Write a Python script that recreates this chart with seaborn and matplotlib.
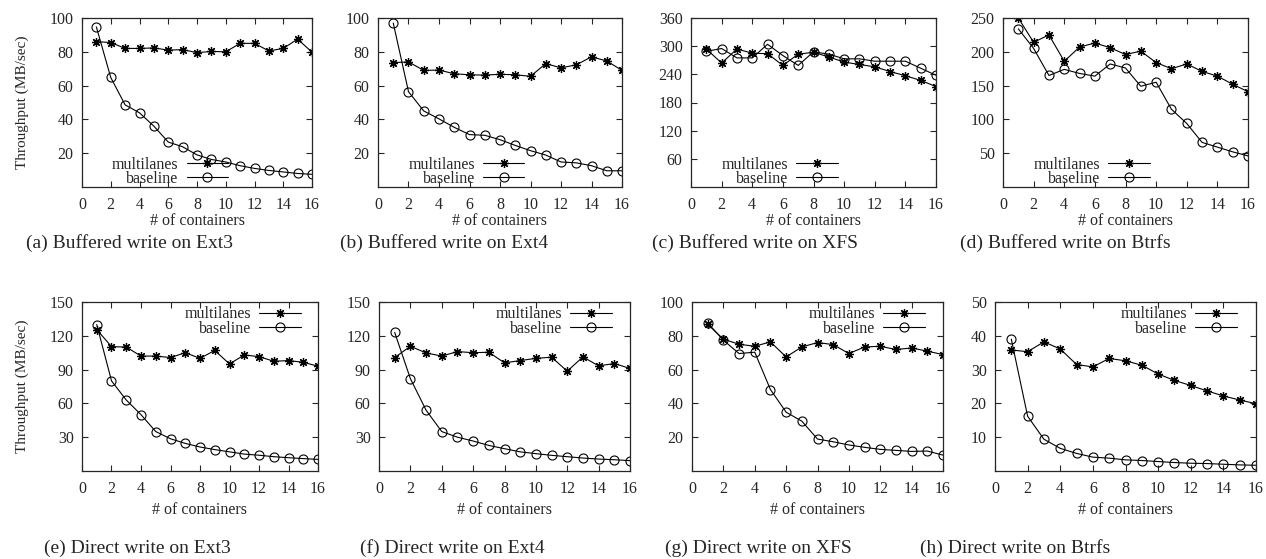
import matplotlib
matplotlib.use("Agg")
import matplotlib.pyplot as plt
import seaborn as sns

# x values: number of containers
containers = list(range(1, 17))

# (a) buffered write, Ext3
ext3_buf_multi = [86, 85.5, 82, 82, 82.3, 81, 81.3, 79.5, 80.2, 80, 85, 85, 80.5, 82, 87.5, 79.8]
ext3_buf_base = [94.7, 64.8, 48.6, 43.9, 36, 26.6, 23.8, 19, 16.3, 14.8, 12.6, 11, 9.8, 8.9, 8, 7.5]

# (b) buffered write, Ext4
ext4_buf_multi = [73.6, 74, 69, 69.2, 67, 66.4, 66.2, 66.7, 66.4, 65.5, 73, 70.5, 72.3, 77, 74.6, 69]
ext4_buf_base = [97, 56.4, 45, 40.3, 35.3, 31, 30.6, 28, 24.6, 21.5, 18.9, 14.8, 14.3, 12.6, 9.6, 9.6]

# (c) buffered write, XFS
xfs_buf_multi = [294, 264, 294, 285, 284, 259, 283, 287, 277, 266, 261, 256, 246, 237, 227, 214]
xfs_buf_base = [289, 295, 275, 275, 304, 280, 259, 288, 283, 273, 273, 268, 268, 268, 253, 238]

# (d) buffered write, Btrfs
btrfs_buf_multi = [250, 214, 225, 186, 207, 213, 206, 196, 201, 184, 175, 182, 171, 164, 152, 141]
btrfs_buf_base = [234, 205, 165, 174, 168, 164, 182, 176, 149, 155, 115, 94, 66, 59, 52, 46]

# (e) direct write, Ext3
ext3_dir_multi = [125.5, 110.4, 110, 102, 102, 100.7, 105, 100, 107, 95, 103, 101.5, 97.4, 98, 96.5, 93]
ext3_dir_base = [130, 80, 63, 50, 35, 28.6, 24.5, 21.3, 19, 17, 15, 14, 12.7, 11.8, 11, 10.3]

# (f) direct write, Ext4
ext4_dir_multi = [100.7, 110.7, 104.8, 102, 106, 105, 105.4, 96, 98, 100, 101, 88.6, 101.3, 93.3, 95.4, 91]
ext4_dir_base = [123, 82, 54, 35, 30, 26.6, 22.7, 19.8, 17, 15.4, 13.9, 12.7, 11.5, 10.6, 10, 9.2]

# (g) direct write, XFS
xfs_dir_multi = [86.8, 78, 75, 73.8, 76.4, 67.5, 73.4, 76, 74.8, 69.5, 73.4, 73.8, 71.9, 72.8, 70.9, 68.9]
xfs_dir_base = [87.6, 77.4, 69.5, 70.3, 48.2, 34.8, 29.5, 18.9, 17.3, 15.4, 14, 12.8, 12.2, 11.6, 11.8, 9.4]

# (h) direct write, Btrfs
btrfs_dir_multi = [35.8, 35.3, 38.2, 36.1, 31.5, 30.8, 33.3, 32.6, 31.3, 28.7, 26.8, 25.3, 23.7, 22.2, 21, 19.9]
btrfs_dir_base = [39, 16.2, 9.4, 6.7, 5.2, 4.1, 3.8, 3.3, 3.1, 2.8, 2.5, 2.3, 2.2, 2.0, 1.8, 1.7]

captions = ["(a) Buffered write on Ext3", "(b) Buffered write on Ext4",
            "(c) Buffered write on XFS", "(d) Buffered write on Btrfs",
            "(e) Direct write on Ext3", "(f) Direct write on Ext4",
            "(g) Direct write on XFS", "(h) Direct write on Btrfs"]
y_limits = [100, 100, 360, 250, 150, 150, 100, 50]
y_steps = [20, 20, 60, 50, 30, 30, 20, 10]

series = [(ext3_buf_multi, ext3_buf_base), (ext4_buf_multi, ext4_buf_base),
          (xfs_buf_multi, xfs_buf_base), (btrfs_buf_multi, btrfs_buf_base),
          (ext3_dir_multi, ext3_dir_base), (ext4_dir_multi, ext4_dir_base),
          (xfs_dir_multi, xfs_dir_base), (btrfs_dir_multi, btrfs_dir_base)]

sns.set_style("ticks")
plt.rcParams['font.family'] = ['Liberation Serif', 'DejaVu Serif']
plt.rcParams['xtick.direction'] = 'in'
plt.rcParams['ytick.direction'] = 'in'
plt.rcParams['axes.linewidth'] = 0.9

W, H = 1266, 559
fig = plt.figure(figsize=(W / 100, H / 100), dpi=100)

# axes boxes in pixels: left, right, top, bottom
boxes = [(82, 312, 18, 187), (378, 622, 18, 187), (691, 936, 18, 187), (1003, 1248, 18, 187),
         (82, 318, 302, 471), (379, 630, 302, 471), (692, 943, 302, 471), (995, 1256, 302, 471)]
cap_x = [129, 444, 755, 1065, 137, 452, 758, 1015]

asterisk = (8, 2, 0)

for i in range(8):
    l, r, t, b = boxes[i]
    ax = fig.add_axes([l / W, 1 - b / H, (r - l) / W, (b - t) / H])
    multi, base = series[i]
    sns.lineplot(x=containers, y=multi, ax=ax, color='black', lw=0.8,
                 marker=asterisk, markersize=6.5, mec='black', mew=0.9,
                 label='multilanes')
    sns.lineplot(x=containers, y=base, ax=ax, color='black', lw=0.8,
                 marker='o', markersize=6.5, mfc='none', mec='black', mew=0.8,
                 label='baseline')
    ax.set_xlim(0, 16)
    ax.set_ylim(0, y_limits[i])
    ax.set_xticks(range(0, 17, 2))
    ax.set_yticks(range(y_steps[i], y_limits[i] + 1, y_steps[i]))
    ax.tick_params(top=True, right=True, labelsize=11.5, length=4, width=0.8)
    ax.tick_params(axis='x', pad=7)
    ax.tick_params(axis='y', pad=6)
    ax.set_xlabel('# of containers', fontsize=11.5, labelpad=0 if i < 4 else 4)
    if i in (0, 4):
        ax.set_ylabel('Throughput (MB/sec)', fontsize=11, labelpad=15)
    else:
        ax.set_ylabel('')
    if i < 4:
        anchor = (0.635 if i == 0 else 0.60, 0.0)
        loc = 'lower right'
    else:
        anchor = (0.927, 0.975)
        loc = 'upper right'
    ax.legend(loc=loc, bbox_to_anchor=anchor, frameon=False, markerfirst=False,
              fontsize=11.5, handlelength=2.6, handletextpad=0.5, labelspacing=-0.1,
              borderpad=0, borderaxespad=0)
    cap_y = 1 - (243 if i < 4 else 548) / H
    fig.text(cap_x[i] / W, cap_y, captions[i], fontsize=14, ha='center', va='center')

fig.savefig('out.png', dpi=100)
